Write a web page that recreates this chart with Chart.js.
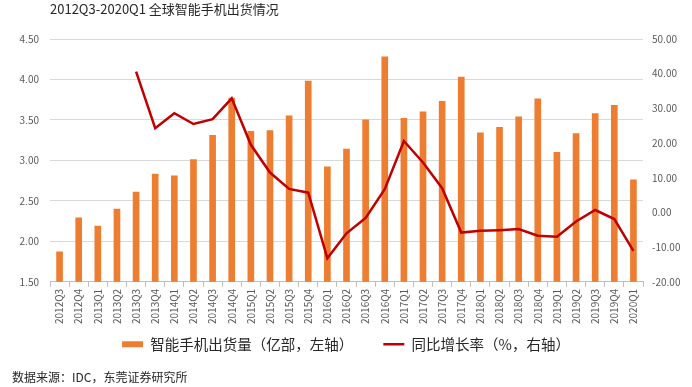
<!DOCTYPE html>
<html>
<head>
<meta charset="utf-8">
<script src="https://cdn.jsdelivr.net/npm/chart.js@4"></script>
<style>
  body { margin: 0; background: #fff; }
  #wrap { position: relative; width: 692px; height: 387px; }
  #title { position: absolute; left: 50px; top: -1px; font: 13px "Noto Sans CJK SC", sans-serif; color: #262626; }
  #source { position: absolute; left: 12px; top: 368px; font: 12px "Noto Sans CJK SC", sans-serif; color: #262626; }
</style>
</head>
<body>
<div id="wrap">
  <canvas id="shipChart" width="692" height="387"></canvas>
  <div id="title">2012Q3-2020Q1 全球智能手机出货情况</div>
  <div id="source">数据来源：IDC，东莞证券研究所</div>
</div>
<script>
const quarters = ['2012Q3','2012Q4','2013Q1','2013Q2','2013Q3','2013Q4','2014Q1','2014Q2','2014Q3','2014Q4',
  '2015Q1','2015Q2','2015Q3','2015Q4','2016Q1','2016Q2','2016Q3','2016Q4','2017Q1','2017Q2','2017Q3','2017Q4',
  '2018Q1','2018Q2','2018Q3','2018Q4','2019Q1','2019Q2','2019Q3','2019Q4','2020Q1'];

// shipments, 100 million units (left axis)
const shipments = [1.87, 2.29, 2.19, 2.40, 2.61, 2.83, 2.81, 3.01, 3.31, 3.77,
  3.36, 3.37, 3.55, 3.98, 2.92, 3.14, 3.50, 4.28, 3.52, 3.60, 3.73, 4.03,
  3.34, 3.41, 3.54, 3.76, 3.10, 3.33, 3.58, 3.68, 2.76];

// year-on-year growth, % (right axis)
const yoyGrowth = [null, null, null, null, 40.6, 24.3, 28.6, 25.5, 26.9, 32.9,
  19.5, 11.5, 6.8, 5.7, -13.2, -6.0, -1.6, 6.7, 20.6, 14.4, 7.0, -5.8,
  -5.3, -5.1, -4.8, -6.7, -7.0, -2.6, 0.7, -1.9, -11.1];

const leftTicks = [1.5, 2.0, 2.5, 3.0, 3.5, 4.0, 4.5];
const rightTicks = [-20, -10, 0, 10, 20, 30, 40, 50];

const tickFont = { family: '"Noto Sans CJK SC", sans-serif', size: 10 };

// legend needs wide gaps between items but sits close under the axis labels
const legendShift = {
  id: 'legendShift',
  afterLayout(chart) {
    chart.legend.top -= 19; // bottom stays so the clip box still holds the items
  }
};

new Chart(document.getElementById('shipChart'), {
  data: {
    labels: quarters,
    datasets: [
      {
        type: 'line',
        label: '同比增长率（%，右轴）',
        data: yoyGrowth,
        yAxisID: 'y1',
        borderColor: '#C00000',
        backgroundColor: '#C00000',
        borderWidth: 2.5,
        pointRadius: 0,
        pointStyle: 'line',
        tension: 0,
        order: 0
      },
      {
        type: 'bar',
        label: '智能手机出货量（亿部，左轴）',
        data: shipments,
        yAxisID: 'y',
        backgroundColor: '#ED7D31',
        barThickness: 6,
        pointStyle: 'rect',
        order: 1
      }
    ]
  },
  options: {
    responsive: false,
    animation: false,
    layout: { padding: { top: 39, bottom: 21, left: 0, right: 0 } },
    plugins: {
      tooltip: { enabled: false },
      legend: {
        position: 'bottom',
        maxHeight: 40,
        labels: {
          usePointStyle: true,
          pointStyleWidth: 21,
          boxHeight: 6,
          padding: 30,
          color: '#262626',
          font: { family: '"Noto Sans CJK SC", sans-serif', size: 14.5 },
          sort: (a, b) => b.datasetIndex - a.datasetIndex
        }
      }
    },
    scales: {
      x: {
        offset: true,
        grid: { display: true, drawOnChartArea: false, offset: true, tickLength: 5, color: '#bfbfbf' },
        border: { color: '#bfbfbf' },
        ticks: { autoSkip: false, minRotation: 90, maxRotation: 90, padding: 2, color: '#595959', font: tickFont }
      },
      y: {
        position: 'left',
        min: 1.5,
        max: 4.5,
        afterBuildTicks: s => { s.ticks = leftTicks.map(v => ({ value: v })); },
        afterFit: s => { s.width = 50; },
        grid: { color: '#d9d9d9', drawTicks: false },
        border: { display: false },
        ticks: { padding: 11, color: '#595959', font: tickFont, callback: v => v.toFixed(2) }
      },
      y1: {
        position: 'right',
        min: -20,
        max: 50,
        afterBuildTicks: s => { s.ticks = rightTicks.map(v => ({ value: v })); },
        afterFit: s => { s.width = 49; },
        grid: { drawOnChartArea: false, drawTicks: false },
        border: { display: false },
        ticks: { padding: 9, color: '#595959', font: tickFont, callback: v => v.toFixed(2) }
      }
    }
  },
  plugins: [legendShift]
});
</script>
</body>
</html>
